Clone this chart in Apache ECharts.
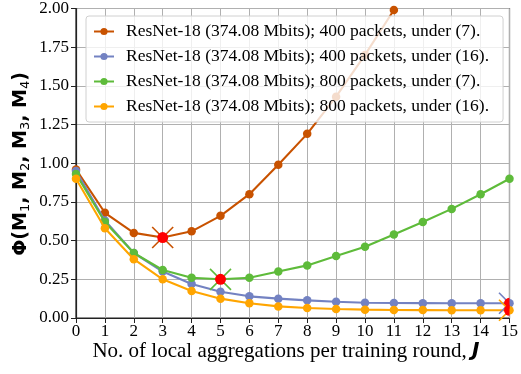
<!DOCTYPE html>
<html>
<head>
<meta charset="utf-8">
<script src="https://cdn.jsdelivr.net/npm/echarts@6/dist/echarts.min.js"></script>
<style>html,body{margin:0;padding:0;background:#fff}#c{width:521px;height:374px}</style>
</head>
<body>
<div id="c"></div>
<script>
var xValues = [0,1,2,3,4,5,6,7,8,9,10,11,12,13,14,15];
var names = [
  'ResNet-18 (374.08 Mbits); 400 packets, under (7).',
  'ResNet-18 (374.08 Mbits); 400 packets, under (16).',
  'ResNet-18 (374.08 Mbits); 800 packets, under (7).',
  'ResNet-18 (374.08 Mbits); 800 packets, under (16).'
];
var s400_7  = [0.96,0.68,0.55,0.52,0.56,0.66,0.80,0.99,1.19,1.43,1.70,1.99];
var s400_16 = [0.95,0.63,0.42,0.30,0.22,0.17,0.14,0.125,0.114,0.105,0.099,0.097,0.096,0.095,0.095,0.095];
var s800_7  = [0.93,0.62,0.42,0.31,0.26,0.25,0.26,0.30,0.34,0.40,0.46,0.54,0.62,0.705,0.80,0.90];
var s800_16 = [0.90,0.58,0.38,0.25,0.175,0.125,0.095,0.075,0.065,0.058,0.054,0.052,0.051,0.05,0.05,0.05];
var optimumX = [3,15,5,15];
var colors = ['#C85200','#7382C2','#5EBB3A','#FFA500'];

var allSeries = [s400_7, s400_16, s800_7, s800_16];
function pairs(arr){ return arr.map(function(v,i){ return [xValues[i], v]; }); }

var series = [];
allSeries.forEach(function(arr, k){
  series.push({
    name: names[k], type: 'line', data: pairs(arr),
    symbol: 'circle', symbolSize: 8.5, color: colors[k],
    lineStyle: {width: 2.1, color: colors[k]}, itemStyle: {color: colors[k]},
    clip: true, z: 2 + k*0.01
  });
});
allSeries.forEach(function(arr, k){
  var ox = optimumX[k];
  var pt = [[ox, arr[xValues.indexOf(ox)]]];
  series.push({
    type: 'custom', data: pt, z: 5, clip: false,
    renderItem: function(params, api){
      var c = api.coord([api.value(0), api.value(1)]);
      var cs = params.coordSys;
      var h = 10.5;
      return {
        type: 'group',
        clipPath: {type: 'rect', shape: {x: cs.x, y: cs.y - 20, width: cs.width, height: cs.height + 40}},
        children: [
          {type: 'line', shape: {x1: c[0]-h, y1: c[1]-h, x2: c[0]+h, y2: c[1]+h},
           style: {stroke: colors[k], lineWidth: 1.6}},
          {type: 'line', shape: {x1: c[0]-h, y1: c[1]+h, x2: c[0]+h, y2: c[1]-h},
           style: {stroke: colors[k], lineWidth: 1.6}},
          {type: 'circle', shape: {cx: c[0], cy: c[1], r: 5.5}, style: {fill: '#FF0000'}}
        ]
      };
    }
  });
});

var chart = echarts.init(document.getElementById('c'), null, {renderer: 'canvas'});
chart.setOption({
  animation: false,
  grid: {left: 76, right: 7, top: 7, bottom: 56, show: true, borderColor: '#222', borderWidth: 1.2},
  xAxis: {
    type: 'value', min: 0, max: 15, interval: 1,
    axisLine: {lineStyle: {color: '#222', width: 1.2}},
    axisTick: {show: true, length: 5, lineStyle: {color: '#222'}},
    axisLabel: {fontFamily: 'Liberation Serif', fontSize: 17, color: '#000', margin: 5},
    splitLine: {show: true, lineStyle: {color: '#b0b0b0', width: 1}}
  },
  yAxis: {
    type: 'value', min: 0, max: 2, interval: 0.25,
    axisLine: {show: true, lineStyle: {color: '#222', width: 1.2}},
    axisTick: {show: true, length: 5, lineStyle: {color: '#222'}},
    axisLabel: {fontFamily: 'Liberation Serif', fontSize: 17, color: '#000', margin: 7,
      formatter: function(v){ return v.toFixed(2); }},
    splitLine: {show: true, lineStyle: {color: '#b0b0b0', width: 1}}
  },
  legend: {
    data: names, orient: 'vertical', left: 86, top: 16,
    itemWidth: 20, itemHeight: 9, itemGap: 6,
    textStyle: {fontFamily: 'Liberation Serif', fontSize: 17.5, color: '#000', lineHeight: 19, padding: [0,0,0,7]},
    backgroundColor: 'rgba(255,255,255,0.8)', borderColor: '#d0d0d0', borderWidth: 1, borderRadius: 3,
    padding: [6, 14, 6, 7]
  },
  graphic: [
    {
      type: 'text', x: 21, y: 164, rotation: Math.PI/2,
      style: {
        text: '{b|Φ(M}{s|1}{b|, M}{s|2}{b|, M}{s|3}{b|, M}{s|4}{b|)}',
        align: 'center', verticalAlign: 'middle',
        rich: {
          b: {fontFamily: 'DejaVu Sans', fontWeight: 'bold', fontSize: 19, fill: '#000', lineHeight: 28, verticalAlign: 'middle'},
          s: {fontFamily: 'DejaVu Sans', fontSize: 13, fill: '#000', lineHeight: 28, padding: [9,0,0,0], verticalAlign: 'middle'}
        }
      }
    },
    {
      type: 'text', x: 286, y: 351,
      style: {
        text: '{n|No. of local aggregations per training round, }{j|J}',
        align: 'center', verticalAlign: 'middle',
        rich: {
          n: {fontFamily: 'Liberation Serif', fontSize: 21, fill: '#000'},
          j: {fontFamily: 'DejaVu Sans', fontStyle: 'italic', fontWeight: 'bold', fontSize: 20, fill: '#000'}
        }
      }
    }
  ],
  series: series
});
</script>
</body>
</html>
